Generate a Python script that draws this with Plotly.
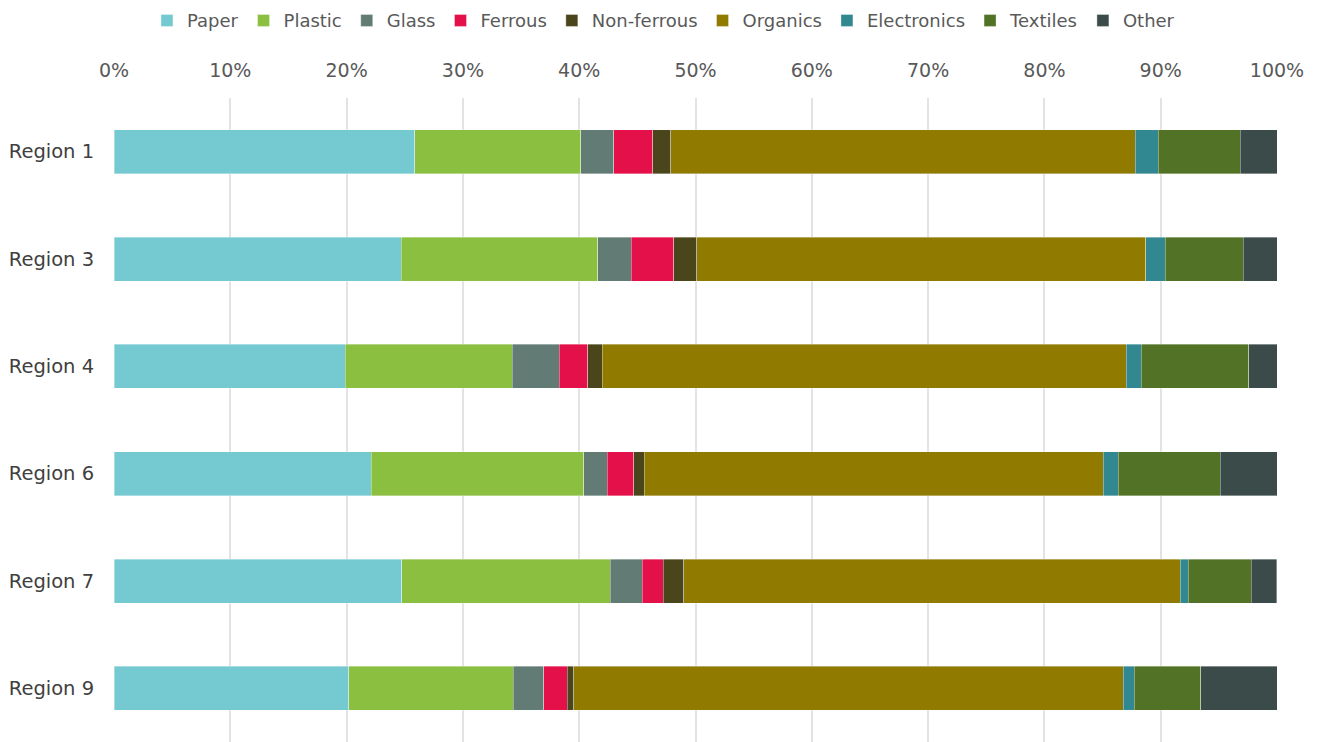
import plotly.graph_objects as go

regions = ["Region 1", "Region 3", "Region 4", "Region 6", "Region 7", "Region 9"]
materials = ["Paper", "Plastic", "Glass", "Ferrous", "Non-ferrous", "Organics", "Electronics", "Textiles", "Other"]

paper = [25.85, 24.70, 19.89, 22.13, 24.73, 20.19]
plastic = [14.30, 16.89, 14.36, 18.28, 17.95, 14.12]
glass = [2.83, 2.87, 4.02, 2.01, 2.73, 2.64]
ferrous = [3.35, 3.66, 2.47, 2.27, 1.82, 2.01]
non_ferrous = [1.52, 1.97, 1.25, 0.92, 1.74, 0.56]
organics = [39.96, 38.62, 45.04, 39.44, 42.71, 47.25]
electronics = [1.98, 1.68, 1.30, 1.31, 0.67, 0.97]
textiles = [7.04, 6.70, 9.25, 8.76, 5.44, 5.70]
other = [3.17, 2.91, 2.42, 4.88, 2.20, 6.56]

series = [paper, plastic, glass, ferrous, non_ferrous, organics, electronics, textiles, other]
colors = ["#75C9D0", "#8ABF3F", "#627C75", "#E31049", "#4B451C", "#907A00", "#318891", "#527226", "#3B4B4A"]

fig = go.Figure()
for name, vals, col in zip(materials, series, colors):
    fig.add_trace(go.Bar(
        y=regions, x=vals, name=name, orientation="h",
        marker=dict(color=col, line=dict(color="rgba(255,255,255,0.45)", width=0.8)),
        hovertemplate="%{y}<br>" + name + ": %{x:.1f}%<extra></extra>",
    ))

font_family = "'DejaVu Sans', sans-serif"
fig.update_layout(
    barmode="stack",
    bargap=0.59,
    width=1319, height=742,
    margin=dict(l=114, r=42, t=98, b=0),
    paper_bgcolor="white", plot_bgcolor="white",
    font=dict(family=font_family, color="#595959", size=18),
    legend=dict(
        orientation="h", xref="container", yref="container",
        x=0.503, xanchor="center", y=0.997, yanchor="top",
        font=dict(size=18, color="#595959"),
        traceorder="normal", itemwidth=30,
    ),
    xaxis=dict(
        side="top", range=[0, 100], dtick=10, ticksuffix="%",
        showgrid=True, gridcolor="#e3e3e3", gridwidth=2,
        zeroline=False, showline=False,
        ticks="outside", ticklen=12, tickcolor="rgba(0,0,0,0)",
        tickfont=dict(size=19, color="#595959"),
        automargin=False, fixedrange=True,
    ),
    yaxis=dict(
        autorange="reversed", showgrid=False, showline=False,
        ticks="outside", ticklen=15, tickcolor="rgba(0,0,0,0)",
        tickfont=dict(size=19.5, color="#404040"),
        automargin=False, fixedrange=True,
    ),
)

fig.write_html("out.html", config={"displayModeBar": False},
               post_script="document.body.style.margin='0';")
